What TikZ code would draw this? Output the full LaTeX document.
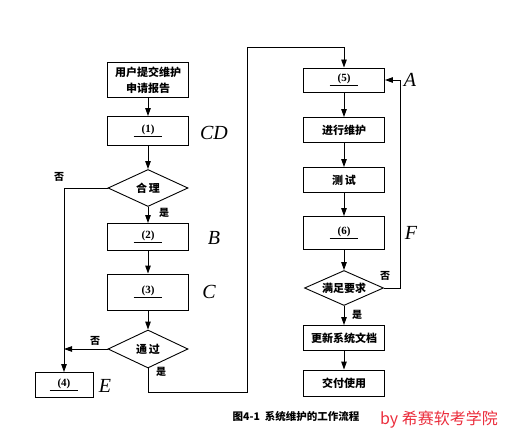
\documentclass[tikz,border=0pt]{standalone}
\usepackage{fontspec}
\usepackage{tikz}
\usetikzlibrary{positioning,shapes,arrows,arrows.meta}
\newfontfamily\cjk{Noto Sans CJK SC}
\setmainfont{Liberation Serif}
\newcommand*{\blank}[1]{\underline{\makebox[2.6em]{\rmfamily\bfseries (#1)}}}

\begin{document}
\begin{tikzpicture}[x=1pt,y=-1pt]
	\tikzstyle{process}=[rectangle, draw=black, line width=0.9pt, fill=white,
	minimum width=81pt, minimum height=26pt, inner sep=2pt, align=center,
	font=\cjk\bfseries\fontsize{11}{16}\selectfont]
	\tikzstyle{decision}=[diamond, draw=black, line width=0.9pt, fill=white,
	minimum width=80pt, minimum height=37pt, inner sep=0pt, aspect=2.2,
	font=\cjk\bfseries\fontsize{11}{13}\selectfont]
	\tikzstyle{line}=[line width=0.9pt, -{Triangle[length=8pt,width=5.5pt]}]
	\tikzstyle{tag}=[font=\cjk\bfseries\fontsize{10}{12}\selectfont, inner sep=1pt]
	\tikzstyle{hand}=[font=\itshape\fontsize{20}{22}\selectfont, inner sep=0pt]
	\useasboundingbox (0,0) rectangle (512,436);
	% left column
	\node (Request) [process, minimum height=35pt] at (148,80) {用户提交维护\\申请报告};
	\node (Step1) [process, minimum height=29pt] at (148,131) {\blank{1}};
	\node (Reasonable) [decision] at (148,188) {合\,理};
	\node (Step2) [process, minimum height=27pt] at (148,237) {\blank{2}};
	\node (Step3) [process, minimum height=36pt] at (148,292) {\blank{3}};
	\node (Pass) [decision, minimum height=38pt] at (148,349) {通\,过};
	\node (Step4) [process, minimum width=58pt, minimum height=25pt] at (64,385) {\blank{4}};
	% right column
	\node (Step5) [process, minimum height=24pt] at (344,80) {\blank{5}};
	\node (Maintain) [process, minimum height=25pt] at (344,130) {进行维护};
	\node (Test) [process, minimum height=25pt] at (344,180) {测\,试};
	\node (Step6) [process, minimum height=33pt] at (344,233) {\blank{6}};
	\node (Satisfy) [decision, minimum width=79pt, minimum height=35pt] at (344,288) {满足要求};
	\node (Update) [process, minimum height=25pt] at (344,338) {更新系统文档};
	\node (Deliver) [process, minimum height=26pt] at (344,383) {交付使用};
	\coordinate (LowTurn) at (247,392);
	\coordinate (TopTurn) at (247,47);
	\coordinate (Back) at (400,288);
	
	\draw[line] (Request) -- (Step1);
	\draw[line] (Step1) -- (Reasonable);
	\draw[line] (Reasonable) -- (Step2);
	\draw[line] (Reasonable.west) -| (Step4.north);
	\draw[line] (Step2) -- (Step3);
	\draw[line] (Step3) -- (Pass);
	\draw[line] (Pass.west) -- (Pass.west -| Step4.north);
	\draw[line] (Pass.south) |- (LowTurn) -- (TopTurn) -| (Step5.north);
	\draw[line] (Step5) -- (Maintain);
	\draw[line] (Maintain) -- (Test);
	\draw[line] (Test) -- (Step6);
	\draw[line] (Step6) -- (Satisfy);
	\draw[line] (Satisfy) -- (Update);
	\draw[line] (Update) -- (Deliver);
	\draw[line] (Satisfy.east) -- (Back) |- (Step5.east);
	
	\node (NoReasonable) [tag] at (59,177) {否};
	\node (YesReasonable) [tag] at (164,213) {是};
	\node (NoPass) [tag] at (95,341) {否};
	\node (YesPass) [tag] at (161,372) {是};
	\node (NoSatisfy) [tag] at (385,276) {否};
	\node (YesSatisfy) [tag] at (357,315) {是};
	% handwritten marks
	\node (MarkCD) [hand] at (214,133) {CD};
	\node (MarkB) [hand] at (214,238) {B};
	\node (MarkC) [hand] at (209,292) {C};
	\node (MarkE) [hand] at (105,386) {E};
	\node (MarkA) [hand] at (410,80) {A};
	\node (MarkF) [hand] at (411,233) {F};
	
	\node (Caption) [font=\cjk\bfseries\fontsize{10.5}{12}\selectfont] at (296,416) {图4-1\ \ 系统维护的工作流程};
	\node (Credit) [font=\cjk\fontsize{16}{18}\selectfont, text={rgb,255:red,235;green,45;blue,60}] at (439,420) {by 希赛软考学院};
\end{tikzpicture}
\end{document}
